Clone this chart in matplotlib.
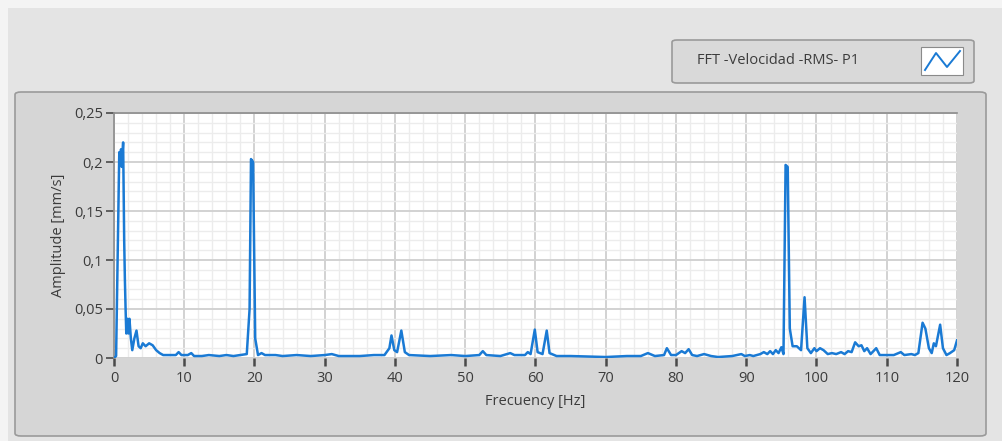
import matplotlib
matplotlib.use("Agg")
import matplotlib.pyplot as plt
from matplotlib.patches import FancyBboxPatch, Rectangle
from matplotlib.lines import Line2D
from matplotlib.ticker import MultipleLocator, FuncFormatter

# Spectrum read-out: frequency [Hz] and RMS velocity amplitude [mm/s]
freq = [0.0, 0.3, 0.75, 0.9, 1.0, 1.1, 1.3, 1.45, 1.55, 1.65, 1.75, 1.9, 2.05, 2.2, 2.4, 2.6,
        2.9, 3.2, 3.5, 3.8, 4.1, 4.5, 5.0, 5.5, 6.0, 6.5, 7.0, 8.0, 8.8, 9.2, 9.6, 10.5,
        11.0, 11.4, 12.5, 13.5, 15.0, 16.0, 17.0, 18.0, 18.9, 19.3, 19.5, 19.8, 20.1, 20.5,
        21.0, 21.5, 23.0, 24.0, 26.0, 28.0, 30.0, 31.0, 32.0, 35.0, 37.0, 38.5, 39.2, 39.5,
        39.9, 40.3, 40.9, 41.4, 42.0, 45.0, 48.0, 50.0, 52.0, 52.5, 53.0, 55.0, 56.4, 57.0,
        58.5, 58.9, 59.3, 59.9, 60.3, 61.0, 61.6, 62.0, 63.0, 65.0, 70.0, 73.0, 75.0, 76.0,
        77.0, 78.3, 78.7, 79.3, 80.0, 80.8, 81.3, 81.8, 82.3, 83.0, 84.0, 85.0, 86.0, 88.0,
        89.3, 89.8, 90.5, 91.0, 92.0, 92.5, 93.0, 93.4, 93.8, 94.2, 94.6, 95.0, 95.3, 95.6,
        95.9, 96.2, 96.6, 97.2, 97.8, 98.3, 98.7, 99.2, 99.7, 100.0, 100.5, 101.0, 101.6,
        102.2, 102.8, 103.5, 104.0, 104.5, 105.0, 105.5, 106.0, 106.4, 106.8, 107.2, 107.7,
        108.5, 109.0, 110.0, 111.0, 112.0, 112.5, 113.5, 114.0, 114.5, 115.1, 115.5, 116.0,
        116.4, 116.7, 117.0, 117.6, 118.0, 118.5, 119.0, 119.6, 120.0]
amp = [0.0, 0.002, 0.21, 0.2, 0.213, 0.195, 0.22, 0.12, 0.08, 0.05, 0.025, 0.04, 0.025, 0.04, 0.02, 0.008,
       0.02, 0.028, 0.012, 0.01, 0.015, 0.012, 0.015, 0.013, 0.008, 0.005, 0.003, 0.003, 0.003, 0.006, 0.003, 0.003,
       0.005, 0.002, 0.002, 0.003, 0.002, 0.003, 0.002, 0.003, 0.004, 0.05, 0.203, 0.2, 0.02, 0.003,
       0.005, 0.003, 0.003, 0.002, 0.003, 0.002, 0.003, 0.004, 0.002, 0.002, 0.003, 0.003, 0.01, 0.023,
       0.008, 0.006, 0.028, 0.006, 0.003, 0.002, 0.003, 0.002, 0.003, 0.007, 0.003, 0.002, 0.005, 0.003,
       0.003, 0.006, 0.004, 0.029, 0.006, 0.004, 0.028, 0.005, 0.002, 0.002, 0.001, 0.002, 0.002, 0.005,
       0.002, 0.003, 0.01, 0.003, 0.003, 0.007, 0.005, 0.009, 0.003, 0.002, 0.004, 0.002, 0.001, 0.002,
       0.004, 0.002, 0.003, 0.002, 0.004, 0.006, 0.004, 0.007, 0.004, 0.008, 0.005, 0.011, 0.004, 0.197,
       0.195, 0.03, 0.012, 0.012, 0.008, 0.062, 0.01, 0.005, 0.01, 0.007, 0.01, 0.008, 0.004,
       0.005, 0.004, 0.006, 0.004, 0.007, 0.006, 0.016, 0.012, 0.013, 0.007, 0.01, 0.004,
       0.01, 0.003, 0.003, 0.003, 0.006, 0.003, 0.004, 0.003, 0.005, 0.036, 0.03, 0.01,
       0.005, 0.015, 0.012, 0.034, 0.01, 0.003, 0.005, 0.008, 0.018]

x_ticks = [0, 10, 20, 30, 40, 50, 60, 70, 80, 90, 100, 110, 120]
y_ticks = [0, 0.05, 0.1, 0.15, 0.2, 0.25]
series_name = "FFT -Velocidad -RMS- P1"

W, H = 1003, 441
fig = plt.figure(figsize=(W / 100, H / 100), dpi=100)
fig.patch.set_facecolor("#e4e4e4")
plt.rcParams["font.family"] = ["Open Sans", "DejaVu Sans"]

def px(x0, y0, w, h):
    """Pixel box (top-left origin) to figure fraction box."""
    return x0 / W, 1 - (y0 + h) / H, w / W, h / H

# light strip along the top and left edge
fig.add_artist(Rectangle((0, 0), 8 / W, 1, transform=fig.transFigure,
                         facecolor="#f4f4f4", edgecolor="none", zorder=0))
fig.add_artist(Rectangle((0, 1 - 8 / H), 1, 8 / H, transform=fig.transFigure,
                         facecolor="#f4f4f4", edgecolor="none", zorder=0))

# graph panel
bx, by, bw, bh = px(15, 92, 971, 344)
fig.add_artist(FancyBboxPatch((bx, by), bw, bh, transform=fig.transFigure,
                              boxstyle="round,pad=0,rounding_size=0.006",
                              facecolor="#d6d6d6", edgecolor="#9a9a9a", lw=1.2, zorder=1))

# legend box
lx, ly, lw_, lh = px(672, 40, 302, 43)
fig.add_artist(FancyBboxPatch((lx, ly), lw_, lh, transform=fig.transFigure,
                              boxstyle="round,pad=0,rounding_size=0.005",
                              facecolor="#d9d9d9", edgecolor="#9a9a9a", lw=1.2, zorder=1))
fig.text(697 / W, 1 - 61 / H, series_name, fontsize=10.5, color="#3c3c3c",
         va="center", ha="left", zorder=3)
ix, iy, iw, ih = px(921, 47, 42, 28)
fig.add_artist(Rectangle((ix, iy), iw, ih, transform=fig.transFigure,
                         facecolor="white", edgecolor="#8a8a8a", lw=0.8, zorder=2))
icon_x = [925 / W, 936 / W, 947 / W, 960 / W]
icon_y = [1 - 70 / H, 1 - 53 / H, 1 - 67 / H, 1 - 51 / H]
fig.add_artist(Line2D(icon_x, icon_y, transform=fig.transFigure, color="#1a7ad4", lw=1.4, zorder=3))

# plot area
ax = fig.add_axes(px(114, 113, 843, 245))
ax.set_zorder(2)
ax.set_facecolor("white")
ax.plot(freq, amp, color="#1a7ad4", lw=1.8, zorder=3)
ax.set_xlim(0, 120)
ax.set_ylim(0, 0.25)

ax.xaxis.set_major_locator(MultipleLocator(10))
ax.xaxis.set_minor_locator(MultipleLocator(2))
ax.yaxis.set_major_locator(MultipleLocator(0.05))
ax.yaxis.set_minor_locator(MultipleLocator(0.01))
ax.set_xticks(x_ticks)
ax.set_yticks(y_ticks)
ax.xaxis.set_major_formatter(FuncFormatter(lambda v, p: f"{v:g}"))
ax.yaxis.set_major_formatter(FuncFormatter(lambda v, p: f"{v:g}".replace(".", ",")))
ax.grid(which="major", color="#d2d2d2", lw=1.4, zorder=0)
ax.grid(which="minor", color="#ececec", lw=1.0, zorder=0)
ax.set_axisbelow(True)

for s in ["right", "bottom"]:
    ax.spines[s].set_visible(False)
for s in ["left", "top"]:
    ax.spines[s].set_color("#8c8c8c")
    ax.spines[s].set_linewidth(1.2)

ax.tick_params(axis="x", which="major", length=6, width=1.8, color="#4a4a4a",
               direction="out", pad=3, labelsize=10.5, labelcolor="#3c3c3c")
ax.tick_params(axis="y", which="major", length=6, width=1.2, color="#4a4a4a",
               direction="out", pad=2, labelsize=10.5, labelcolor="#3c3c3c")
ax.tick_params(which="minor", length=0)

ax.set_xlabel("Frecuency [Hz]", fontsize=10.5, color="#3c3c3c", labelpad=6)
ax.set_ylabel("Amplitude [mm/s]", fontsize=10.5, color="#3c3c3c", labelpad=6)

fig.savefig("out.png", dpi=100, facecolor=fig.get_facecolor())
